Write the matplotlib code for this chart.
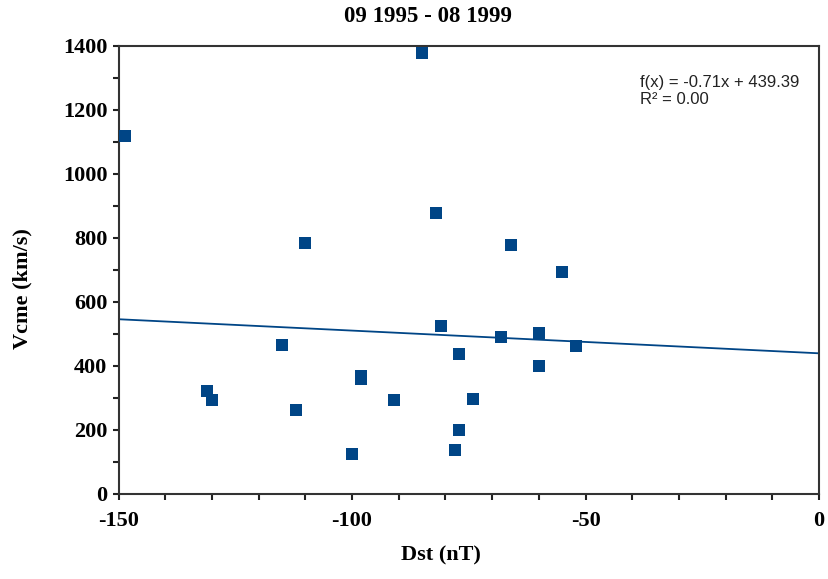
import matplotlib
matplotlib.use('Agg')
import matplotlib.pyplot as plt
from matplotlib.ticker import MultipleLocator
import numpy as np

plt.rcParams['axes.unicode_minus'] = False

# data
dst = [-148.7, -85, -110, -82, -66, -55, -81, -68, -60, -52, -115, -77,
       -60, -98, -98, -74, -91, -131, -130, -112, -77, -78, -100]
vcme = [1118, 1377, 785, 879, 779, 695, 526, 491, 504, 463, 466, 438,
        400, 370, 360, 297, 294, 322, 294, 263, 200, 138, 125]

slope = -0.71
intercept = 439.39

blue = '#004586'
serif = 'Liberation Serif'

fig = plt.figure(figsize=(8.29, 5.79), dpi=100)
ax = fig.add_axes([0.143, 0.147, 0.845, 0.7736])

ax.scatter(dst, vcme, marker='s', s=85, color=blue, zorder=3, linewidths=0)
xs = np.array([-150, 0])
ax.plot(xs, slope * xs + intercept, color=blue, lw=1.3, zorder=2)

ax.set_xlim(-150, 0)
ax.set_ylim(0, 1400)
ax.xaxis.set_major_locator(MultipleLocator(50))
ax.xaxis.set_minor_locator(MultipleLocator(10))
ax.yaxis.set_major_locator(MultipleLocator(200))
ax.yaxis.set_minor_locator(MultipleLocator(100))

for sp in ax.spines.values():
    sp.set_color('#333333')
    sp.set_linewidth(1.5)
ax.tick_params(which='both', direction='out', length=4, width=1.5, color='#222222')
ax.tick_params(which='major', labelsize=16)
ax.tick_params(axis='x', which='major', pad=8)
ax.tick_params(axis='y', which='major', pad=4)
for lab in ax.get_xticklabels() + ax.get_yticklabels():
    lab.set_fontfamily(serif)
    lab.set_fontweight('bold')

ax.text(0.744, 0.935, 'f(x) = -0.71x + 439.39\nR² = 0.00', transform=ax.transAxes,
        fontsize=12, family='Liberation Sans', color='#222222', va='top', ha='left',
        linespacing=1.15)

fig.text(0.516, 0.972, '09 1995 - 08 1999', ha='center', va='center',
         fontsize=16.5, fontweight='bold', family=serif)
fig.text(0.532, 0.040, 'Dst (nT)', ha='center', va='center',
         fontsize=16, fontweight='bold', family=serif)
fig.text(0.027, 0.502, 'Vcme (km/s)', ha='center', va='center', rotation=90,
         fontsize=16, fontweight='bold', family=serif)

fig.savefig('out.png', dpi=100)
